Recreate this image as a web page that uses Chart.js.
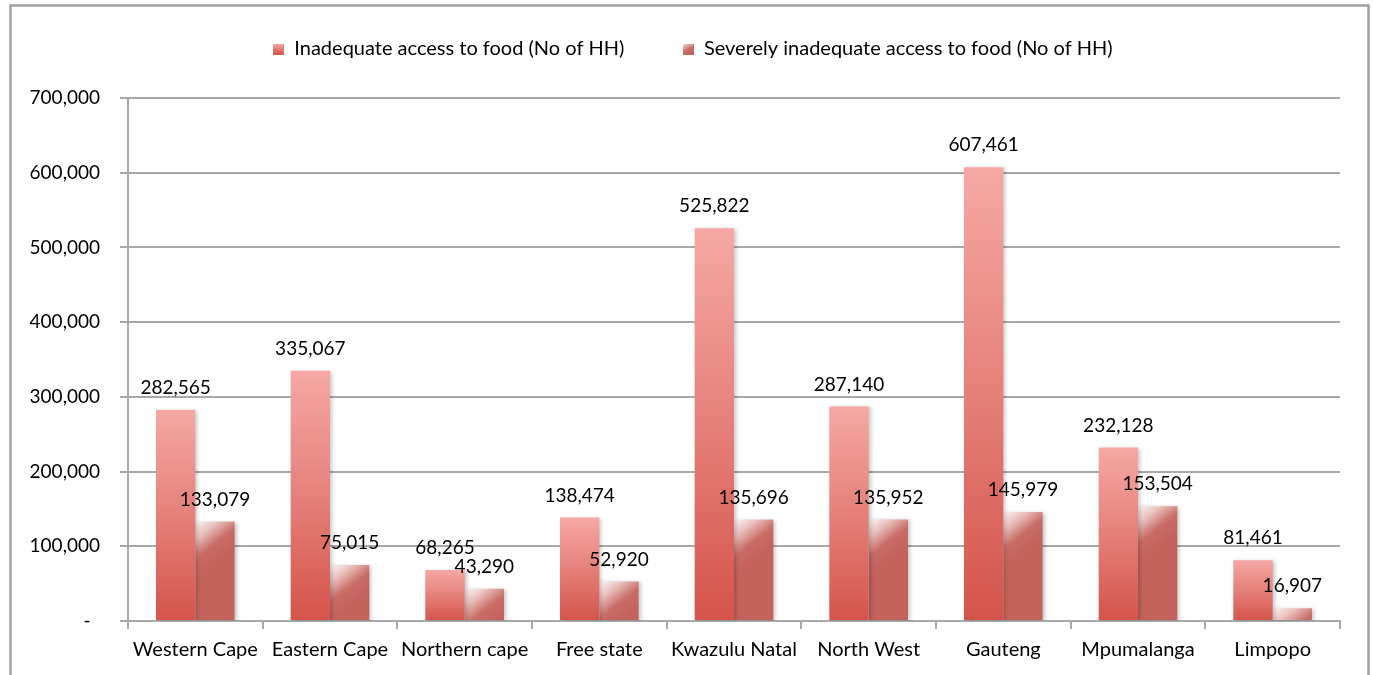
<!DOCTYPE html>
<html>
<head>
<meta charset="utf-8">
<title>Household food access by province</title>
<script src="https://cdn.jsdelivr.net/npm/chart.js@4/dist/chart.umd.min.js"></script>
<style>
  html, body { margin: 0; padding: 0; background: #fff; }
  #wrap { position: relative; width: 1373px; height: 675px; }
</style>
</head>
<body>
<div id="wrap"><canvas id="chart" width="1373" height="675"></canvas></div>
<script>
// Provinces on the category axis
const provinces = [
  'Western Cape', 'Eastern Cape', 'Northern cape', 'Free state',
  'Kwazulu Natal', 'North West', 'Gauteng', 'Mpumalanga', 'Limpopo'
];

// Number of households per province
const inadequateAccess = [282565, 335067, 68265, 138474, 525822, 287140, 607461, 232128, 81461];
const severelyInadequateAccess = [133079, 75015, 43290, 52920, 135696, 135952, 145979, 153504, 16907];

// Series names shown in the legend
const seriesNames = [
  'Inadequate access to food (No of HH)',
  'Severely inadequate access to food (No of HH)'
];

// Value-axis tick values
const yTickValues = [0, 100000, 200000, 300000, 400000, 500000, 600000, 700000];

const FONT = 'Lato, "Open Sans", "Noto Sans", sans-serif';
const GRID = '#a8a8a8';

// Vertical pink-to-red fill for the first series, per bar
function inadequateFill(c) {
  const chart = c.chart;
  if (c.dataIndex === undefined || !chart.chartArea) return '#e5776f';
  const y = chart.scales.y;
  const top = y.getPixelForValue(c.raw);
  const base = y.getPixelForValue(0);
  const g = chart.ctx.createLinearGradient(0, top, 0, base);
  g.addColorStop(0, '#f6a8a4');
  g.addColorStop(0.5, '#e5807a');
  g.addColorStop(1, '#d4544a');
  return g;
}

// Solid red with a pale sheen at the top-left corner for the second series
function severeFill(c) {
  const chart = c.chart;
  if (c.dataIndex === undefined || !chart.chartArea) return '#c4635d';
  const y = chart.scales.y;
  const x = chart.scales.x;
  const top = y.getPixelForValue(c.raw);
  const left = x.getPixelForValue(c.dataIndex);
  const g = chart.ctx.createLinearGradient(left, top, left + 28, top + 36);
  g.addColorStop(0, '#fdf7f7');
  g.addColorStop(0.3, '#e9c2bf');
  g.addColorStop(0.65, '#c96c66');
  g.addColorStop(1, '#c4625c');
  return g;
}

// Small gradient swatches for the legend boxes
function swatch(kind) {
  const cv = document.createElement('canvas');
  cv.width = 11; cv.height = 11;
  const x = cv.getContext('2d');
  let g;
  if (kind === 0) {
    g = x.createLinearGradient(0, 0, 0, 11);
    g.addColorStop(0, '#f6a8a4');
    g.addColorStop(1, '#d4544a');
  } else {
    g = x.createLinearGradient(0, 0, 6, 11);
    g.addColorStop(0, '#f6e4e3');
    g.addColorStop(0.6, '#cb706a');
    g.addColorStop(1, '#c4625c');
  }
  x.fillStyle = g;
  x.fillRect(0, 0, 11, 11);
  return cv;
}

// Outer frame, legend placement, bar shadows and value labels
const decorations = {
  id: 'decorations',
  beforeLayout(chart) {
    const lg = chart.legend;
    if (lg && !lg._roomAdded) {
      const fit = lg.fit.bind(lg);
      lg.fit = function () { fit(); this.height += 29; };
      lg._roomAdded = true;
    }
  },
  afterLayout(chart) {
    const lg = chart.legend;
    if (lg) { lg.left += 23; lg.right += 23; }
  },
  beforeDraw(chart) {
    const ctx = chart.ctx;
    ctx.save();
    ctx.strokeStyle = '#a0a0a0';
    ctx.lineWidth = 2.5;
    ctx.strokeRect(10.5, 5.5, 1358, 720);
    ctx.restore();
  },
  beforeDatasetsDraw(chart) {
    const ctx = chart.ctx;
    ctx.save();
    ctx.shadowColor = 'rgba(0,0,0,0.22)';
    ctx.shadowBlur = 4;
    ctx.shadowOffsetX = 2;
    ctx.shadowOffsetY = 1;
  },
  afterDatasetsDraw(chart) {
    const ctx = chart.ctx;
    ctx.restore();
    ctx.save();
    ctx.font = '19px ' + FONT;
    ctx.fillStyle = '#000';
    ctx.textAlign = 'center';
    ctx.textBaseline = 'middle';
    chart.data.datasets.forEach((ds, i) => {
      const meta = chart.getDatasetMeta(i);
      meta.data.forEach((bar, j) => {
        ctx.fillText(ds.data[j].toLocaleString('en-US'), bar.x, bar.y - 22);
      });
    });
    ctx.restore();
  }
};

new Chart(document.getElementById('chart'), {
  type: 'bar',
  data: {
    labels: provinces,
    datasets: [
      {
        label: seriesNames[0],
        data: inadequateAccess,
        backgroundColor: inadequateFill,
        borderWidth: 0,
        categoryPercentage: 0.584,
        barPercentage: 1.0
      },
      {
        label: seriesNames[1],
        data: severelyInadequateAccess,
        backgroundColor: severeFill,
        borderWidth: 0,
        categoryPercentage: 0.584,
        barPercentage: 1.0
      }
    ]
  },
  options: {
    responsive: false,
    animation: false,
    devicePixelRatio: 1,
    layout: { padding: { top: 8, right: 33, bottom: 14, left: 0 } },
    plugins: {
      tooltip: { enabled: false },
      legend: {
        position: 'top',
        align: 'center',
        labels: {
          font: { family: FONT, size: 20 },
          color: '#000',
          boxWidth: 11,
          boxHeight: 11,
          padding: 31,
          usePointStyle: true,
          generateLabels(chart) {
            const items = Chart.defaults.plugins.legend.labels.generateLabels(chart);
            items.forEach((it, i) => {
              it.lineWidth = 0;
              it.pointStyle = swatch(i);
            });
            items[0].text = items[0].text + '\u2003\u2002\u2009';
            return items;
          }
        }
      }
    },
    scales: {
      x: {
        afterFit(s) { s.height = 40; },
        grid: {
          display: true,
          drawOnChartArea: false,
          drawTicks: true,
          tickLength: 8,
          color: GRID,
          lineWidth: 2,
          offset: true
        },
        border: { display: true, color: GRID, width: 2 },
        ticks: {
          font: { family: FONT, size: 20 },
          color: '#000',
          padding: 9,
          maxRotation: 0,
          autoSkip: false
        }
      },
      y: {
        min: 0,
        max: 700000,
        afterFit(s) { s.width = 128; },
        afterBuildTicks(s) { s.ticks = yTickValues.map(v => ({ value: v })); },
        grid: {
          color: GRID,
          lineWidth: 2,
          tickLength: 8,
          drawTicks: true
        },
        border: { display: true, color: GRID, width: 2 },
        ticks: {
          font: { family: FONT, size: 19 },
          color: '#000',
          padding: 20,
          callback(v) { return v === 0 ? '-\u2002' : v.toLocaleString('en-US'); }
        }
      }
    }
  },
  plugins: [decorations]
});
</script>
</body>
</html>
